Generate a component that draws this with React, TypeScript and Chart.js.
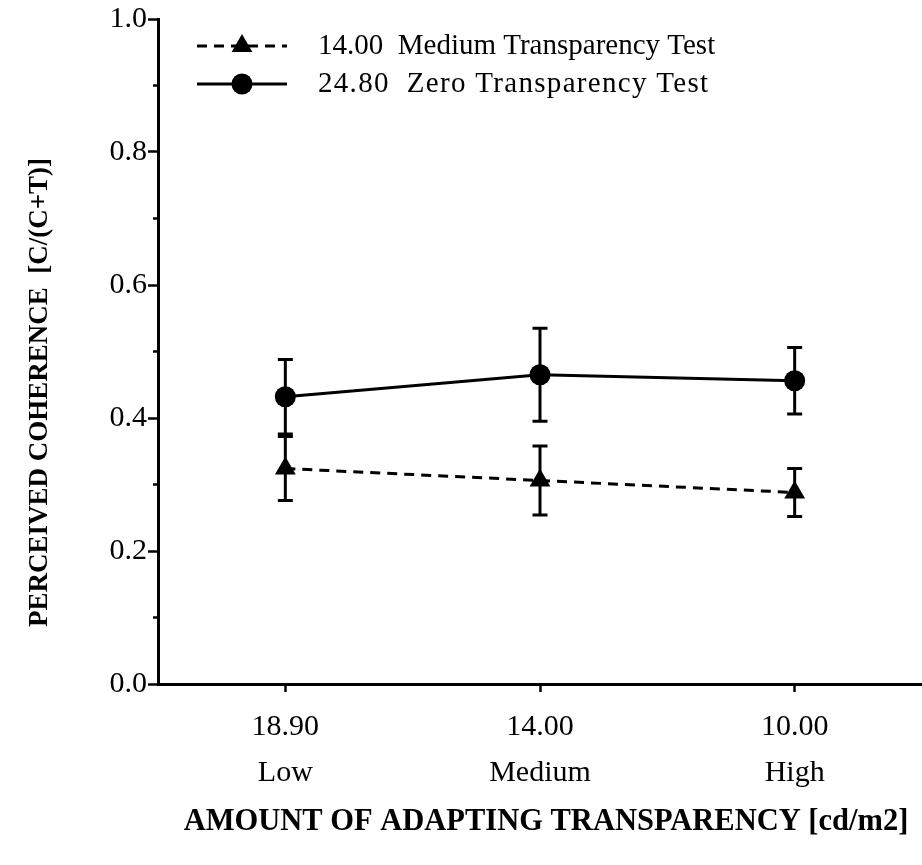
import React, { useEffect, useRef } from "react";
import { Chart, registerables } from "chart.js";

Chart.register(...registerables);

// Adapting luminance (cd/m2) and transparency level for each condition
const luminanceLabels = ["18.90", "14.00", "10.00"];
const transparencyLevels = ["Low", "Medium", "High"];

// Series: mean perceived coherence and error half-widths
const mediumTestLabel = "14.00  Medium Transparency Test";
const mediumTestMeans = [0.324, 0.306, 0.288];
const mediumTestErrors = [0.048, 0.052, 0.036];

const zeroTestLabel = "24.80  Zero Transparency Test";
const zeroTestMeans = [0.432, 0.465, 0.456];
const zeroTestErrors = [0.056, 0.07, 0.05];

// Axis ticks
const yMajorTicks = [0, 0.2, 0.4, 0.6, 0.8, 1.0];
const yMinorTicks = [0.1, 0.3, 0.5, 0.7, 0.9];

const xTitle = "AMOUNT OF ADAPTING TRANSPARENCY [cd/m2]";
const yTitle = "PERCEIVED COHERENCE  [C/(C+T)]";

const SERIF = "'Liberation Serif', 'Times New Roman', serif";
const INK = "#000000";

function drawMarker(ctx: CanvasRenderingContext2D, style: string, x: number, y: number, r: number) {
  ctx.beginPath();
  if (style === "triangle") {
    let rad = 0;
    ctx.moveTo(x + Math.sin(rad) * r, y - Math.cos(rad) * r);
    rad += (2 * Math.PI) / 3;
    ctx.lineTo(x + Math.sin(rad) * r, y - Math.cos(rad) * r);
    rad += (2 * Math.PI) / 3;
    ctx.lineTo(x + Math.sin(rad) * r, y - Math.cos(rad) * r);
    ctx.closePath();
  } else {
    ctx.arc(x, y, r, 0, Math.PI * 2);
  }
  ctx.fillStyle = INK;
  ctx.fill();
}

const errorBarPlugin = {
  id: "errorBars",
  beforeDatasetsDraw(chart: any) {
    const { ctx } = chart;
    const yScale = chart.scales.y;
    chart.data.datasets.forEach((ds: any, i: number) => {
      const meta = chart.getDatasetMeta(i);
      ds.data.forEach((m: number, j: number) => {
        const e = ds.errors[j];
        const x = meta.data[j].x;
        const yTop = yScale.getPixelForValue(m + e);
        const yBot = yScale.getPixelForValue(m - e);
        ctx.save();
        ctx.strokeStyle = INK;
        ctx.lineWidth = 3;
        ctx.beginPath();
        ctx.moveTo(x, yTop);
        ctx.lineTo(x, yBot);
        ctx.moveTo(x - 7.5, yTop);
        ctx.lineTo(x + 7.5, yTop);
        ctx.moveTo(x - 7.5, yBot);
        ctx.lineTo(x + 7.5, yBot);
        ctx.stroke();
        ctx.restore();
      });
    });
  },
};

const decorPlugin = {
  id: "decor",
  afterDraw(chart: any) {
    const { ctx, chartArea } = chart;
    const yScale = chart.scales.y;

    // minor ticks on the value axis
    ctx.save();
    ctx.strokeStyle = INK;
    ctx.lineWidth = 2.5;
    yMinorTicks.forEach((v) => {
      const y = yScale.getPixelForValue(v);
      ctx.beginPath();
      ctx.moveTo(chartArea.left - 5, y);
      ctx.lineTo(chartArea.left, y);
      ctx.stroke();
    });
    ctx.restore();

    // vertical axis title
    ctx.save();
    ctx.translate(chartArea.left - 118, (chartArea.top + chartArea.bottom) / 2 + 41);
    ctx.rotate(-Math.PI / 2);
    ctx.font = `bold 27px ${SERIF}`;
    ctx.fillStyle = INK;
    ctx.textAlign = "center";
    ctx.textBaseline = "middle";
    ctx.fillText(yTitle, 0, 0);
    ctx.restore();

    // horizontal axis title
    ctx.save();
    ctx.font = `bold 30.5px ${SERIF}`;
    ctx.fillStyle = INK;
    ctx.textAlign = "center";
    ctx.textBaseline = "middle";
    ctx.fillText(xTitle, chartArea.left + 388, chartArea.bottom + 138);
    ctx.restore();

    // legend: line sample with marker, then label
    const rows = [27, 65];
    const spacing = ["0px", "1.3px"];
    chart.data.datasets.forEach((ds: any, i: number) => {
      const y = chartArea.top + rows[i];
      const x0 = chartArea.left + 39;
      const x1 = chartArea.left + 129;
      ctx.save();
      ctx.strokeStyle = INK;
      ctx.lineWidth = 3;
      ctx.setLineDash(ds.borderDash || []);
      ctx.beginPath();
      ctx.moveTo(x0, y);
      ctx.lineTo(x1, y);
      ctx.stroke();
      ctx.setLineDash([]);
      drawMarker(ctx, ds.pointStyle, (x0 + x1) / 2, y, ds.pointRadius);
      ctx.font = `29px ${SERIF}`;
      (ctx as any).letterSpacing = spacing[i];
      ctx.fillStyle = INK;
      ctx.textAlign = "left";
      ctx.textBaseline = "middle";
      ctx.fillText(ds.label, chartArea.left + 160, y);
      ctx.restore();
    });
  },
};

export default function App() {
  const canvasRef = useRef<HTMLCanvasElement | null>(null);

  useEffect(() => {
    if (!canvasRef.current) return;
    const chart = new Chart(canvasRef.current, {
      type: "line",
      data: {
        labels: luminanceLabels.map((l, i) => [l, transparencyLevels[i]]),
        datasets: [
          {
            label: mediumTestLabel,
            data: mediumTestMeans,
            errors: mediumTestErrors,
            borderColor: INK,
            backgroundColor: INK,
            borderWidth: 3,
            borderDash: [10, 7],
            pointStyle: "triangle",
            pointRadius: 12,
            pointBorderWidth: 0,
            tension: 0,
          } as any,
          {
            label: zeroTestLabel,
            data: zeroTestMeans,
            errors: zeroTestErrors,
            borderColor: INK,
            backgroundColor: INK,
            borderWidth: 3,
            pointStyle: "circle",
            pointRadius: 10.5,
            pointBorderWidth: 0,
            tension: 0,
          } as any,
        ],
      },
      options: {
        animation: false,
        responsive: false,
        maintainAspectRatio: false,
        layout: { autoPadding: false, padding: { top: 18, left: 0, right: -4, bottom: 0 } },
        plugins: {
          legend: { display: false },
          tooltip: { enabled: false },
        },
        scales: {
          x: {
            type: "category",
            offset: true,
            grid: {
              display: true,
              drawOnChartArea: false,
              drawTicks: true,
              tickLength: 8,
              tickWidth: 2.5,
              tickColor: INK,
              offset: false,
            },
            border: { display: true, color: INK, width: 3 },
            ticks: {
              color: INK,
              padding: 12,
              maxRotation: 0,
              autoSkip: false,
              font: { family: SERIF, size: 30, lineHeight: "46px" },
            },
            afterFit(scale: any) {
              scale.height = 181;
              scale.paddingLeft = 0;
              scale.paddingRight = 0;
            },
          },
          y: {
            type: "linear",
            min: 0,
            max: 1,
            grid: {
              display: true,
              drawOnChartArea: false,
              drawTicks: true,
              tickLength: 10,
              tickWidth: 2.5,
              tickColor: INK,
            },
            border: { display: true, color: INK, width: 3 },
            ticks: {
              color: INK,
              padding: 1,
              font: { family: SERIF, size: 30 },
              callback: (v: any) => Number(v).toFixed(1),
            },
            afterBuildTicks(scale: any) {
              scale.ticks = yMajorTicks.map((v) => ({ value: v }));
            },
            afterFit(scale: any) {
              scale.width = 158;
            },
          },
        },
      } as any,
      plugins: [errorBarPlugin, decorPlugin],
    });
    return () => chart.destroy();
  }, []);

  return (
    <div style={{ position: "fixed", left: 0, top: 0, width: 922, height: 865, background: "#ffffff", overflow: "hidden" }}>
      <canvas ref={canvasRef} width={922} height={865} style={{ display: "block" }} />
    </div>
  );
}
